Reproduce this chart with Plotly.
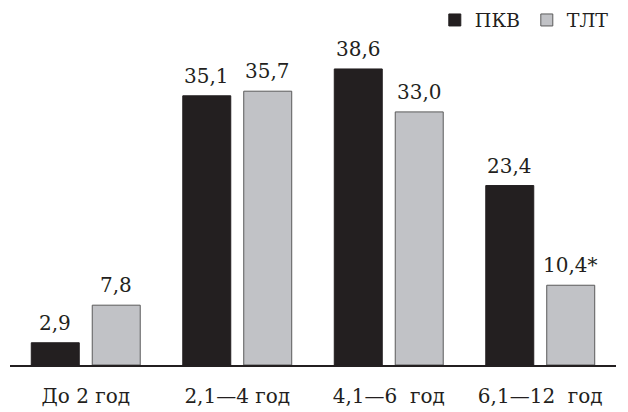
import plotly.graph_objects as go

categories = ["До 2 год", "2,1—4 год", "4,1—6 \u00a0год", "6,1—12 \u00a0год"]
pkv = [2.9, 35.1, 38.6, 23.4]
tlt = [7.8, 35.7, 33.0, 10.4]
pkv_labels = ["2,9", "35,1", "38,6", "23,4"]
tlt_labels = ["7,8", "35,7", "33,0", "10,4*"]

FONT = "DejaVu Serif"
INK = "#231f20"

fig = go.Figure()
fig.add_trace(go.Bar(
    x=categories, y=pkv, name="ПКВ",
    marker=dict(color=INK, line=dict(color=INK, width=1)),
))
fig.add_trace(go.Bar(
    x=categories, y=tlt, name="ТЛТ",
    marker=dict(color="#c1c2c6", line=dict(color="#5a5a5a", width=1)),
))

# value labels above bars
for cat, v, lab in zip(categories, pkv, pkv_labels):
    fig.add_annotation(x=cat, y=v, text=lab, showarrow=False, xshift=-30.5,
                       yanchor="bottom", yshift=6,
                       font=dict(family=FONT, size=20, color=INK))
for cat, v, lab in zip(categories, tlt, tlt_labels):
    fig.add_annotation(x=cat, y=v, text=lab, showarrow=False, xshift=30.5,
                       yanchor="bottom", yshift=6,
                       font=dict(family=FONT, size=20, color=INK))

fig.update_layout(
    width=628, height=412,
    margin=dict(l=10, r=12, t=4, b=47, autoexpand=False),
    barmode="group", bargap=0.195, bargroupgap=0.213,
    plot_bgcolor="white", paper_bgcolor="white",
    font=dict(family=FONT, size=20, color=INK),
    showlegend=True,
    legend=dict(orientation="h", x=0.701, xanchor="left",
                y=1.008, yanchor="top",
                font=dict(family=FONT, size=19, color=INK),
                bgcolor="rgba(0,0,0,0)", itemwidth=30,
                entrywidth=47, entrywidthmode="pixels"),
    xaxis=dict(showline=True, linecolor=INK, linewidth=1.5, ticks="",
               ticklabelstandoff=12,
               tickfont=dict(family=FONT, size=20, color=INK)),
    yaxis=dict(range=[0, 47.07], visible=False, showgrid=False, zeroline=False),
)

fig.write_html("out.html")
